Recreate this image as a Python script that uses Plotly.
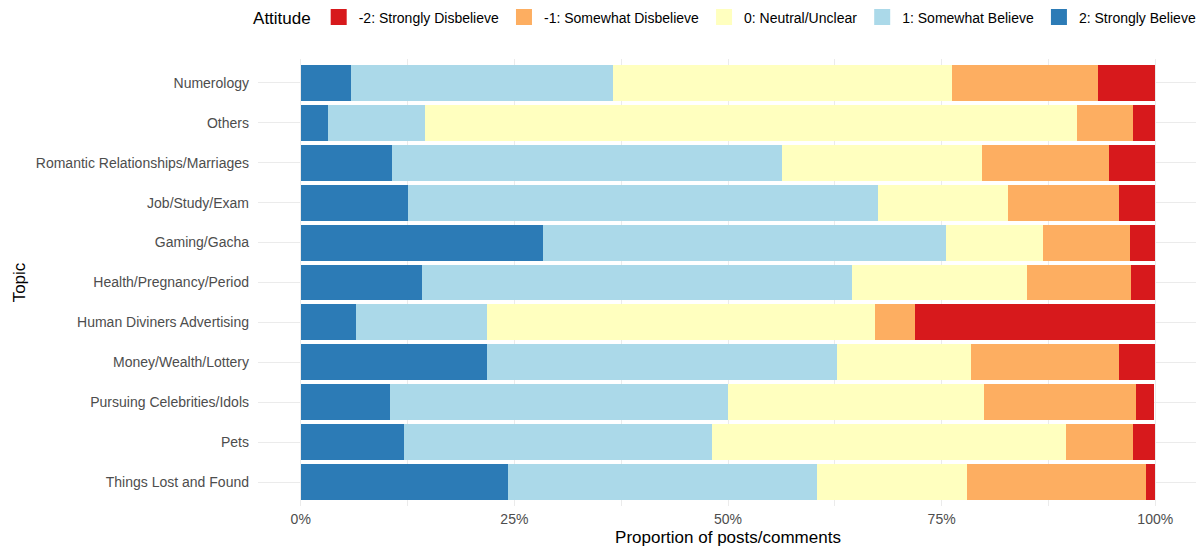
import plotly.graph_objects as go

topics = [
    "Numerology",
    "Others",
    "Romantic Relationships/Marriages",
    "Job/Study/Exam",
    "Gaming/Gacha",
    "Health/Pregnancy/Period",
    "Human Diviners Advertising",
    "Money/Wealth/Lottery",
    "Pursuing Celebrities/Idols",
    "Pets",
    "Things Lost and Found",
]

# proportions (%) per attitude level, in topic order
strongly_believe    = [5.9, 3.2, 10.7, 12.5, 28.4, 14.2, 6.5, 21.8, 10.5, 12.1, 24.2]
somewhat_believe    = [30.6, 11.4, 45.6, 55.1, 47.1, 50.3, 15.3, 41.0, 39.5, 36.0, 36.2]
neutral_unclear     = [39.7, 76.2, 23.4, 15.2, 11.4, 20.5, 45.4, 15.6, 30.0, 41.4, 17.6]
somewhat_disbelieve = [17.1, 6.6, 14.9, 12.9, 10.2, 12.2, 4.7, 17.3, 17.7, 7.9, 20.9]
strongly_disbelieve = [6.7, 2.6, 5.4, 4.3, 2.9, 2.8, 28.1, 4.3, 2.2, 2.6, 1.1]

level_names = [
    "2: Strongly Believe",
    "1: Somewhat Believe",
    "0: Neutral/Unclear",
    "-1: Somewhat Disbelieve",
    "-2: Strongly Disbelieve",
]
level_values = [strongly_believe, somewhat_believe, neutral_unclear,
                somewhat_disbelieve, strongly_disbelieve]
level_colors = ["#2C7BB6", "#ABD9E9", "#FFFFBF", "#FDAE61", "#D7191C"]

x_tickvals = [0, 0.25, 0.5, 0.75, 1.0]
x_ticktext = ["0%", "25%", "50%", "75%", "100%"]

FONT = "Liberation Sans, Arial, sans-serif"
GRID = "#EBEBEB"

fig = go.Figure()
for name, vals, col in zip(level_names, level_values, level_colors):
    fig.add_trace(go.Bar(
        y=topics,
        x=[v / 100 for v in vals],
        name=name,
        orientation="h",
        marker=dict(color=col, line=dict(width=0)),
        showlegend=False,
    ))

# legend entries (reversed order: -2 first) as square swatches
for i, (name, col) in enumerate(reversed(list(zip(level_names, level_colors)))):
    fig.add_trace(go.Scatter(
        x=[None], y=[None], mode="markers", name=name,
        marker=dict(symbol="square", size=16, color=col),
        showlegend=True, legendrank=i + 1,
    ))

# page body has an 8px default margin, so the figure is 8px smaller
fig.update_layout(
    width=1196, height=539,
    barmode="stack",
    bargap=0.1,
    plot_bgcolor="white",
    paper_bgcolor="white",
    font=dict(family=FONT, size=14, color="#4D4D4D"),
    margin=dict(l=250, r=6, t=51, b=41, autoexpand=False),
    legend=dict(
        orientation="h",
        x=-0.0074, xanchor="left",
        y=1.0917, yanchor="middle",
        title=dict(text="Attitude", side="left", font=dict(size=17, color="black")),
        font=dict(size=14, color="black"),
        itemsizing="trace",
        traceorder="normal",
        tracegroupgap=0,
    ),
    xaxis=dict(
        range=[-0.05, 1.05],
        tickvals=x_tickvals,
        ticktext=x_ticktext,
        showgrid=True, gridcolor=GRID, gridwidth=1.2,
        minor=dict(tickvals=[0.125, 0.375, 0.625, 0.875], showgrid=True,
                   gridcolor=GRID, gridwidth=0.7),
        zeroline=False, showline=False, ticks="",
        ticklabelstandoff=3,
        tickfont=dict(size=14, color="#4D4D4D"),
        title=dict(text="Proportion of posts/comments", standoff=8,
                   font=dict(size=17, color="black")),
        automargin=False,
    ),
    yaxis=dict(
        categoryorder="array",
        categoryarray=topics[::-1],
        range=[-0.6, len(topics) - 0.4],
        showgrid=True, gridcolor=GRID, gridwidth=1.2,
        zeroline=False, showline=False, ticks="",
        ticklabelstandoff=8,
        tickfont=dict(size=14, color="#4D4D4D"),
        title=dict(text="Topic", standoff=5, font=dict(size=17, color="black")),
        automargin=False,
    ),
)

fig.write_html("out.html")
